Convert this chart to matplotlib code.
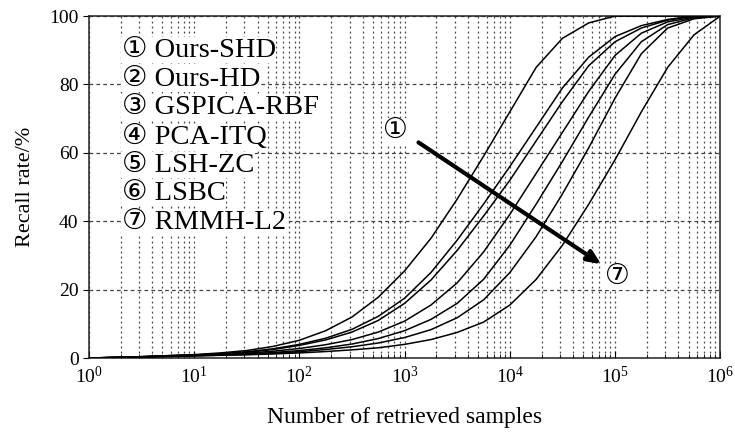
# recall_curves.py

# ============================
# Imports
# ============================
import numpy as np
import matplotlib
matplotlib.use("Agg")
import matplotlib.pyplot as plt
from matplotlib.ticker import FixedLocator, NullFormatter

plt.rcParams["font.family"] = ["Liberation Serif", "DejaVu Sans"]
plt.rcParams["mathtext.fontset"] = "custom"
plt.rcParams["mathtext.rm"] = "Liberation Serif"
plt.rcParams["mathtext.it"] = "Liberation Serif:italic"

# ============================
# Data
# ============================
# x positions as exponent of 10 (number of retrieved samples)
log_x = [0.0, 0.25, 0.5, 0.75, 1.0, 1.25, 1.5, 1.75, 2.0, 2.25, 2.5, 2.75, 3.0,
         3.25, 3.5, 3.75, 4.0, 4.25, 4.5, 4.75, 5.0, 5.25, 5.5, 5.75, 6.0]

methods = ["Ours-SHD", "Ours-HD", "GSPICA-RBF", "PCA-ITQ", "LSH-ZC", "LSBC", "RMMH-L2"]
marks = ["\u2460", "\u2461", "\u2462", "\u2463", "\u2464", "\u2465", "\u2466"]

recall_ours_shd = [0, 0.2, 0.4, 0.7, 1.0, 1.5, 2.2, 3.4, 5.2, 8.0, 12.0, 17.8, 25.5,
                   35.0, 46.5, 59.0, 72.0, 85.0, 93.5, 98.0, 100, 100, 100, 100, 100]
recall_ours_hd = [0, 0.2, 0.4, 0.7, 0.9, 1.3, 1.8, 2.7, 4.0, 5.8, 8.4, 12.2, 17.5,
                  25.0, 34.5, 45.0, 56.0, 67.5, 79.0, 88.0, 94.0, 97.2, 99.0, 100, 100]
recall_gspica = [0, 0.2, 0.4, 0.65, 0.85, 1.2, 1.7, 2.5, 3.7, 5.3, 7.6, 11.0, 16.0,
                 22.8, 31.5, 41.5, 52.0, 63.5, 75.0, 85.5, 92.5, 96.5, 98.8, 100, 100]
recall_pca_itq = [0, 0.2, 0.35, 0.6, 0.8, 1.0, 1.4, 2.0, 2.8, 3.9, 5.4, 7.6, 10.8,
                  15.5, 22.0, 31.0, 42.0, 54.0, 66.0, 78.0, 88.5, 95.0, 98.3, 99.7, 100]
recall_lsh_zc = [0, 0.15, 0.3, 0.55, 0.75, 0.9, 1.2, 1.6, 2.2, 3.0, 4.1, 5.7, 8.0,
                 11.3, 16.0, 23.0, 33.0, 45.0, 57.5, 70.5, 83.0, 92.5, 97.5, 99.5, 100]
recall_lsbc = [0, 0.15, 0.3, 0.5, 0.7, 0.85, 1.05, 1.4, 1.85, 2.5, 3.3, 4.4, 6.0,
               8.3, 11.8, 17.0, 25.0, 35.5, 48.0, 61.5, 76.0, 89.0, 96.5, 99.2, 100]
recall_rmmh = [0, 0.1, 0.25, 0.45, 0.6, 0.8, 0.95, 1.2, 1.5, 1.9, 2.4, 3.0, 4.0,
               5.4, 7.5, 10.5, 15.5, 23.0, 33.0, 45.0, 58.0, 72.0, 85.0, 94.5, 100]

all_recall = [recall_ours_shd, recall_ours_hd, recall_gspica, recall_pca_itq,
              recall_lsh_zc, recall_lsbc, recall_rmmh]

x_decades = [0, 1, 2, 3, 4, 5, 6]
y_ticks = [0, 20, 40, 60, 80, 100]

# ============================
# Plot
# ============================
fig = plt.figure(figsize=(7.35, 4.34), dpi=100)
ax = fig.add_axes([0.121, 0.175, 0.859, 0.788])

x = 10.0 ** np.asarray(log_x)
for rec in all_recall:
    ax.plot(x, rec, color="black", lw=1.1, zorder=3, solid_joinstyle="round")

ax.set_xscale("log")
ax.set_xlim(1, 1e6)
ax.set_ylim(0, 100)
ax.set_yticks(y_ticks)
ax.set_xticks([10.0 ** d for d in x_decades])
ax.set_xticklabels([rf"$10^{{{d}}}$" for d in x_decades])
minor_x = [m * 10.0 ** d for d in x_decades[:-1] for m in range(2, 10)]
ax.xaxis.set_minor_locator(FixedLocator(minor_x))
ax.xaxis.set_minor_formatter(NullFormatter())

# dotted verticals, dashed horizontals
ax.grid(True, which="both", axis="x", color="#444444", lw=0.9, linestyle=(0, (1.5, 2.5)))
ax.grid(True, which="major", axis="y", color="#444444", lw=0.9, linestyle=(0, (3, 2.5)))

ax.tick_params(axis="x", which="both", direction="in", top=False, labelsize=14, pad=6)
ax.tick_params(axis="x", which="major", length=5)
ax.tick_params(axis="x", which="minor", length=3)
ax.tick_params(axis="y", direction="out", right=False, labelsize=14, length=4)
for sp in ax.spines.values():
    sp.set_linewidth(1.1)
    sp.set_color("#222222")

ax.set_xlabel("Number of retrieved samples", fontsize=17, labelpad=14)
ax.set_ylabel("Recall rate/%", fontsize=16, labelpad=10)

# --- text legend (circled numbers) ---
leg_y = [0.901, 0.816, 0.734, 0.646, 0.564, 0.482, 0.398]
for mk, name, yy in zip(marks, methods, leg_y):
    ax.text(0.052, yy, f"{mk} {name}", transform=ax.transAxes, fontsize=20.5,
            va="center", ha="left", zorder=4,
            bbox=dict(facecolor="white", edgecolor="none", pad=0.5))

# --- arrow from 1 to 7 ---
ax.text(10 ** 2.91, 66.4, marks[0], fontsize=20, ha="center", va="center", zorder=4,
        bbox=dict(facecolor="white", edgecolor="none", pad=0.5))
ax.text(10 ** 5.02, 23.7, marks[6], fontsize=20, ha="center", va="center", zorder=4,
        bbox=dict(facecolor="white", edgecolor="none", pad=0.5))
ax.annotate("", xy=(10 ** 4.89, 27.0), xytext=(10 ** 3.11, 63.5),
            arrowprops=dict(arrowstyle="-|>,head_length=0.8,head_width=0.35",
                            color="black", lw=3.0), zorder=5)

fig.savefig("out.png", dpi=100)
